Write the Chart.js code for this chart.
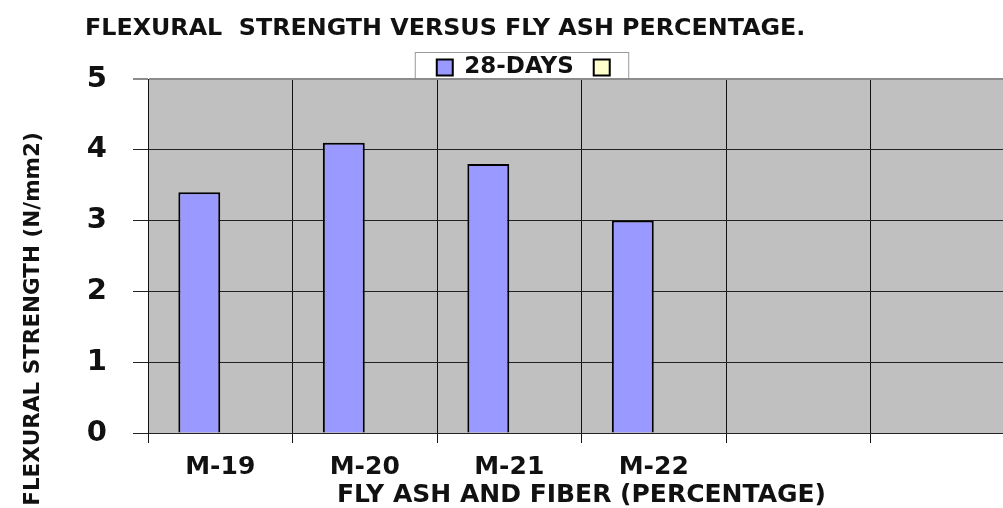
<!DOCTYPE html>
<html lang="en">
<head>
<meta charset="UTF-8">
<title>Flexural strength versus fly ash percentage</title>
<script src="https://cdn.jsdelivr.net/npm/chart.js"></script>
<style>
  body { margin: 0; background: #fff; overflow: hidden; }
  .wrap { width: 1015px; height: 508px; }
</style>
</head>
<body>
<div class="wrap"><canvas id="flexChart"></canvas></div>
<script>
// data
const categories = ['M-19', 'M-20', 'M-21', 'M-22', '', ''];
const days28 = [3.4, 4.1, 3.8, 3.0, null, null];
const emptySeries = [null, null, null, null, null, null];
const seriesLabels = ['28-DAYS', ''];
const yTicks = [0, 1, 2, 3, 4, 5];
const chartTitle = 'FLEXURAL  STRENGTH VERSUS FLY ASH PERCENTAGE.';
const yTitle = 'FLEXURAL STRENGTH (N/mm2)';
const xTitle = 'FLY ASH AND FIBER (PERCENTAGE)';

const FONT = "'DejaVu Sans', sans-serif";
const INK = '#111';

// grey plot background, white legend box, main title and y title
const decorations = {
    id: 'decorations',
    beforeLayout(chart) {
        // legend sits right on top of the plot, drop its bottom gap
        const lg = chart.legend;
        if (lg && !lg._tight) {
            const fit = lg.fit;
            lg.fit = function () { fit.call(this); this.height -= 10; };
            lg._tight = true;
        }
    },
    beforeDraw(chart) {
        const ctx = chart.ctx;
        const a = chart.chartArea;
        ctx.save();
        ctx.fillStyle = '#c0c0c0';
        ctx.fillRect(a.left, a.top, a.right - a.left, a.bottom - a.top);
        const boxes = chart.legend.legendHitBoxes;
        if (boxes && boxes.length) {
            const l = Math.min(...boxes.map(b => b.left)) - 22;
            const r = Math.max(...boxes.map(b => b.left + b.width)) + 8;
            const t = boxes[0].top - 4;
            ctx.fillStyle = '#fff';
            ctx.fillRect(l, t, r - l, a.top - t);
            ctx.strokeStyle = '#9a9a9a';
            ctx.lineWidth = 1;
            ctx.strokeRect(l + 0.5, t + 0.5, r - l - 1, a.top - t);
        }
        ctx.restore();
    },
    afterDraw(chart) {
        const ctx = chart.ctx;
        ctx.save();
        ctx.fillStyle = INK;
        ctx.font = 'bold 23.8px ' + FONT;
        ctx.textAlign = 'left';
        ctx.textBaseline = 'alphabetic';
        ctx.fillText(chartTitle, 85, 35);

        ctx.translate(39, 319);
        ctx.rotate(-Math.PI / 2);
        ctx.font = 'bold 21.5px ' + FONT;
        ctx.textAlign = 'center';
        ctx.fillText(yTitle, 0, 0);
        ctx.restore();
    }
};

const ctx = document.getElementById('flexChart').getContext('2d');
new Chart(ctx, {
    type: 'bar',
    data: {
        labels: categories,
        datasets: [{
            label: seriesLabels[0],
            data: days28,
            backgroundColor: '#9999ff',
            borderColor: '#000',
            borderWidth: 2,
            barPercentage: 1,
            categoryPercentage: 0.58
        }, {
            label: seriesLabels[1],
            data: emptySeries,
            backgroundColor: '#ffffcc',
            borderColor: '#000',
            borderWidth: 2,
            barPercentage: 1,
            categoryPercentage: 0.58
        }]
    },
    options: {
        responsive: true,
        maintainAspectRatio: false,
        animation: false,
        layout: { padding: { top: 36, left: 43, right: 0, bottom: 0 } },
        plugins: {
            tooltip: { enabled: false },
            title: { display: false },
            legend: {
                position: 'top',
                labels: {
                    boxWidth: 16,
                    boxHeight: 16,
                    padding: 20,
                    color: INK,
                    font: { family: FONT, size: 23, weight: 'bold' }
                }
            }
        },
        scales: {
            x: {
                grid: { color: '#111', lineWidth: 1, tickLength: 10, offset: true },
                border: { color: '#222', width: 1 },
                ticks: {
                    color: INK,
                    padding: 9,
                    font: { family: FONT, size: 25, weight: 'bold' }
                },
                title: {
                    display: true,
                    text: xTitle,
                    color: INK,
                    padding: { top: 0, bottom: -2 },
                    font: { family: FONT, size: 25, weight: 'bold' }
                },
                afterFit: s => { s.height = 75; }
            },
            y: {
                min: 0,
                max: 5,
                afterBuildTicks: s => { s.ticks = yTicks.map(v => ({ value: v })); },
                grid: {
                    color: c => (c.tick && c.tick.value === 5 ? '#8c8c8c' : '#222'),
                    lineWidth: c => (c.tick && c.tick.value === 5 ? 2 : 1),
                    tickLength: 15
                },
                border: { color: '#111', width: 1 },
                ticks: {
                    color: INK,
                    padding: 26,
                    font: { family: FONT, size: 29, weight: 'bold' }
                },
                afterFit: s => { s.width = 105; }
            }
        }
    },
    plugins: [decorations]
});
</script>
</body>
</html>
